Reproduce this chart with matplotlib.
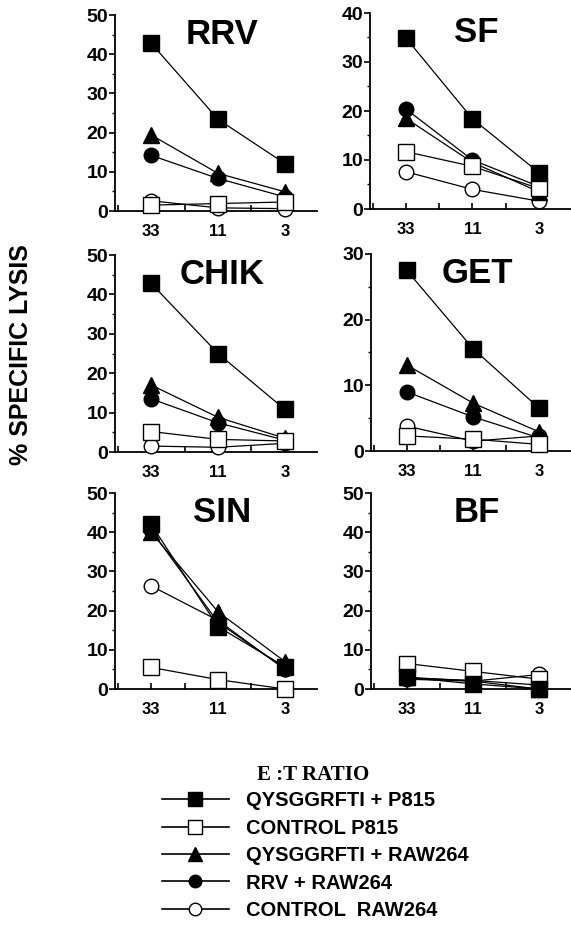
import matplotlib
matplotlib.use("Agg")
import matplotlib.pyplot as plt
from matplotlib.lines import Line2D
from matplotlib.ticker import MultipleLocator

plt.rcParams["font.family"] = ["Liberation Sans", "DejaVu Sans"]
plt.rcParams["font.weight"] = "bold"

# E:T ratios (categorical positions 0, 1, 2)
RATIOS = ["33", "11", "3"]

SERIES = ["QYSGGRFTI + P815", "CONTROL P815", "QYSGGRFTI + RAW264",
          "RRV + RAW264", "CONTROL  RAW264"]

# % specific lysis per panel, series in SERIES order
RRV  = [[42.8, 23.4, 12.1], [1.5, 1.9, 2.3], [19.4, 9.6, 4.9], [14.2, 8.3, 3.6], [2.6, 0.8, 0.6]]
SF   = [[34.9, 18.4, 7.4], [11.7, 8.7, 4.2], [18.5, 9.5, 3.5], [20.4, 10.0, 4.6], [7.6, 4.0, 1.6]]
CHIK = [[42.8, 25.0, 10.8], [5.2, 3.2, 2.8], [17.0, 8.8, 3.5], [13.5, 7.4, 3.0], [1.5, 1.2, 2.2]]
GET  = [[27.5, 15.6, 6.5], [2.3, 1.8, 1.0], [13.1, 7.3, 2.9], [9.0, 5.2, 2.0], [3.8, 1.5, 2.3]]
SIN  = [[42.0, 15.9, 5.7], [5.5, 2.4, 0.0], [40.0, 19.7, 7.0], [40.5, 17.0, 5.2], [26.3, 17.5, 5.0]]
BF   = [[3.0, 1.3, 0.0], [6.5, 4.5, 2.5], [3.0, 2.0, 0.0], [2.8, 2.2, 1.0], [2.5, 2.0, 3.7]]

PANELS = [("RRV", RRV, 50), ("SF", SF, 40), ("CHIK", CHIK, 50),
          ("GET", GET, 30), ("SIN", SIN, 50), ("BF", BF, 50)]

# marker style per series: (marker, face, size)
STYLES = [("s", "black", 12), ("s", "white", 11), ("^", "black", 11),
          ("o", "black", 10.5), ("o", "white", 10.5)]
DRAW_ORDER = [4, 3, 2, 1, 0]

W, H = 571, 930
fig = plt.figure(figsize=(W / 100, H / 100), dpi=100)

# axes boxes in pixels: left, x-axis y, width, height
BOXES = [(115, 211, 202, 196), (370, 209, 201, 196),
         (115, 452, 202, 197), (371, 451, 200, 197),
         (115, 689, 202, 196), (371, 689, 200, 196)]

for (name, data, ymax), (l, b, w, h) in zip(PANELS, BOXES):
    ax = fig.add_axes([l / W, 1 - b / H, w / W, h / H])
    x = list(range(len(RATIOS)))
    for i in DRAW_ORDER:
        m, fc, ms = STYLES[i]
        ax.plot(x, data[i], color="black", lw=0.9, marker=m, mfc=fc, mec="black",
                mew=1.0, ms=ms, clip_on=False, zorder=3 + (4 - i) * 0.1)
    ax.set_xlim(-0.54, 2.48)
    ax.set_ylim(0, ymax)
    for s in ["top", "right"]:
        ax.spines[s].set_visible(False)
    for s in ["left", "bottom"]:
        ax.spines[s].set_linewidth(1.3)
    ax.set_xticks(x)
    ax.set_xticklabels(RATIOS)
    ax.xaxis.set_minor_locator(MultipleLocator(0.5))
    ax.yaxis.set_major_locator(MultipleLocator(10))
    ax.yaxis.set_minor_locator(MultipleLocator(5))
    ax.tick_params(axis="x", which="both", direction="in", length=4, width=1.2,
                   pad=9, labelsize=12)
    ax.tick_params(axis="y", which="major", direction="out", length=4, width=1.2,
                   pad=1, labelsize=14)
    ax.tick_params(axis="y", which="minor", direction="out", length=2.5, width=1.0)
    ax.text(0.53, 0.985, name, transform=ax.transAxes, ha="center", va="top",
            fontsize=25, fontweight="bold")

fig.text(21 / W, 1 - 355 / H, "% SPECIFIC LYSIS", rotation=90, ha="center",
         va="center", fontsize=18, fontweight="bold")
fig.text(313 / W, 1 - 775 / H, "E :T RATIO", ha="center", va="center",
         fontsize=15, fontweight="bold", family=["Liberation Serif", "DejaVu Serif"])

handles = [Line2D([], [], color="black", lw=1.2, marker=STYLES[i][0],
                  mfc=STYLES[i][1], mec="black", ms=STYLES[i][2] - 1.5)
           for i in range(len(SERIES))]
fig.legend(handles, SERIES, loc="upper left", bbox_to_anchor=(144 / W, 1 - 773 / H),
           frameon=False, handlelength=3.3, handletextpad=0.85, labelspacing=0.42,
           prop={"size": 14.5, "weight": "bold"})

fig.savefig("out.png", dpi=100)
